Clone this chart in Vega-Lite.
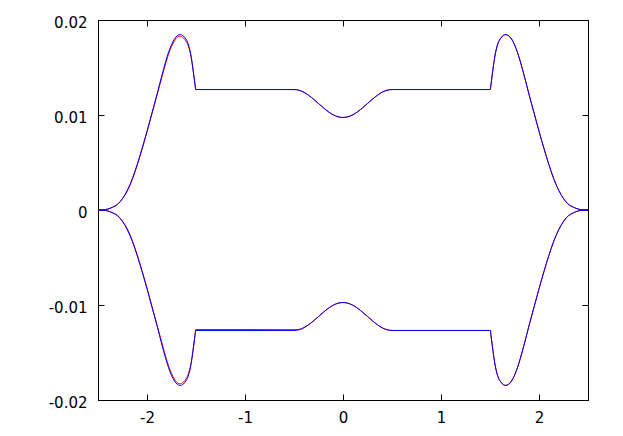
{
 "$schema": "https://vega.github.io/schema/vega-lite/v6.json",
 "width": 490,
 "height": 380,
 "autosize": {"type": "none"},
 "padding": {"left": 98, "top": 20, "right": 35, "bottom": 36},
 "background": "white",
 "config": {
  "view": {"stroke": "black", "strokeWidth": 1},
  "axis": {"domainColor": "black", "tickColor": "black", "grid": false, "labelFont": "DejaVu Sans", "labelFontSize": 15, "labelColor": "black", "tickSize": -6, "labelFlush": false, "labelOverlap": false}
 },
 "data": {"values": [
  {"b":"u","x":-2.5,"blue":0,"red":0},
  {"b":"u","x":-2.45,"blue":0.00002,"red":0.00002},
  {"b":"u","x":-2.4,"blue":0.0001,"red":0.0001},
  {"b":"u","x":-2.35,"blue":0.0003,"red":0.0003},
  {"b":"u","x":-2.3,"blue":0.0006,"red":0.0006},
  {"b":"u","x":-2.25,"blue":0.0012,"red":0.0012},
  {"b":"u","x":-2.2,"blue":0.0021,"red":0.0020},
  {"b":"u","x":-2.15,"blue":0.0033,"red":0.0032},
  {"b":"u","x":-2.1,"blue":0.0048,"red":0.0047},
  {"b":"u","x":-2.05,"blue":0.0065,"red":0.0064},
  {"b":"u","x":-2.0,"blue":0.0083,"red":0.0082},
  {"b":"u","x":-1.95,"blue":0.0102,"red":0.0101},
  {"b":"u","x":-1.9,"blue":0.0121,"red":0.0120},
  {"b":"u","x":-1.85,"blue":0.0141,"red":0.0139},
  {"b":"u","x":-1.81,"blue":0.0156,"red":0.0154},
  {"b":"u","x":-1.78,"blue":0.0166,"red":0.0164},
  {"b":"u","x":-1.75,"blue":0.0174,"red":0.0172},
  {"b":"u","x":-1.72,"blue":0.0180,"red":0.0178},
  {"b":"u","x":-1.69,"blue":0.01835,"red":0.0182},
  {"b":"u","x":-1.66,"blue":0.01847,"red":0.0183},
  {"b":"u","x":-1.64,"blue":0.0184,"red":0.0182},
  {"b":"u","x":-1.61,"blue":0.0181,"red":0.0179},
  {"b":"u","x":-1.58,"blue":0.0175,"red":0.0173},
  {"b":"u","x":-1.55,"blue":0.0162,"red":0.0161},
  {"b":"u","x":-1.53,"blue":0.0148,"red":0.0147},
  {"b":"u","x":-1.51,"blue":0.0132,"red":0.0132},
  {"b":"u","x":-1.503,"blue":0.01268,"red":0.01268},
  {"b":"u","x":-1.0,"blue":0.01268,"red":0.01268},
  {"b":"u","x":-0.5,"blue":0.01268,"red":0.01268},
  {"b":"u","x":-0.45,"blue":0.01261,"red":0.01261},
  {"b":"u","x":-0.4,"blue":0.01240,"red":0.01240},
  {"b":"u","x":-0.35,"blue":0.01207,"red":0.01207},
  {"b":"u","x":-0.3,"blue":0.01166,"red":0.01166},
  {"b":"u","x":-0.25,"blue":0.01121,"red":0.01121},
  {"b":"u","x":-0.2,"blue":0.01076,"red":0.01076},
  {"b":"u","x":-0.15,"blue":0.01035,"red":0.01035},
  {"b":"u","x":-0.1,"blue":0.01002,"red":0.01002},
  {"b":"u","x":-0.05,"blue":0.00981,"red":0.00981},
  {"b":"u","x":0,"blue":0.00974,"red":0.00974},
  {"b":"u","x":0.05,"blue":0.00981,"red":0.00981},
  {"b":"u","x":0.1,"blue":0.01002,"red":0.01002},
  {"b":"u","x":0.15,"blue":0.01035,"red":0.01035},
  {"b":"u","x":0.2,"blue":0.01076,"red":0.01076},
  {"b":"u","x":0.25,"blue":0.01121,"red":0.01121},
  {"b":"u","x":0.3,"blue":0.01166,"red":0.01166},
  {"b":"u","x":0.35,"blue":0.01207,"red":0.01207},
  {"b":"u","x":0.4,"blue":0.01240,"red":0.01240},
  {"b":"u","x":0.45,"blue":0.01261,"red":0.01261},
  {"b":"u","x":0.5,"blue":0.01268,"red":0.01268},
  {"b":"u","x":1.0,"blue":0.01268,"red":0.01268},
  {"b":"u","x":1.503,"blue":0.01268,"red":0.01268},
  {"b":"u","x":1.51,"blue":0.0132,"red":0.0132},
  {"b":"u","x":1.53,"blue":0.0148,"red":0.0148},
  {"b":"u","x":1.55,"blue":0.0162,"red":0.0162},
  {"b":"u","x":1.58,"blue":0.0175,"red":0.0175},
  {"b":"u","x":1.61,"blue":0.0181,"red":0.0181},
  {"b":"u","x":1.64,"blue":0.0184,"red":0.0184},
  {"b":"u","x":1.66,"blue":0.01847,"red":0.01845},
  {"b":"u","x":1.69,"blue":0.01835,"red":0.01833},
  {"b":"u","x":1.72,"blue":0.0180,"red":0.0180},
  {"b":"u","x":1.75,"blue":0.0174,"red":0.0174},
  {"b":"u","x":1.78,"blue":0.0166,"red":0.0166},
  {"b":"u","x":1.81,"blue":0.0156,"red":0.0156},
  {"b":"u","x":1.85,"blue":0.0141,"red":0.0141},
  {"b":"u","x":1.9,"blue":0.0121,"red":0.0121},
  {"b":"u","x":1.95,"blue":0.0102,"red":0.0102},
  {"b":"u","x":2.0,"blue":0.0083,"red":0.0083},
  {"b":"u","x":2.05,"blue":0.0065,"red":0.0065},
  {"b":"u","x":2.1,"blue":0.0048,"red":0.0048},
  {"b":"u","x":2.15,"blue":0.0033,"red":0.0033},
  {"b":"u","x":2.2,"blue":0.0021,"red":0.0021},
  {"b":"u","x":2.25,"blue":0.0012,"red":0.0012},
  {"b":"u","x":2.3,"blue":0.0006,"red":0.0006},
  {"b":"u","x":2.35,"blue":0.0003,"red":0.0003},
  {"b":"u","x":2.4,"blue":0.0001,"red":0.0001},
  {"b":"u","x":2.45,"blue":0.00002,"red":0.00002},
  {"b":"u","x":2.5,"blue":0,"red":0},
  {"b":"l","x":-2.5,"blue":0,"red":0},
  {"b":"l","x":-2.45,"blue":-0.00002,"red":-0.00002},
  {"b":"l","x":-2.4,"blue":-0.0001,"red":-0.0001},
  {"b":"l","x":-2.35,"blue":-0.0003,"red":-0.0003},
  {"b":"l","x":-2.3,"blue":-0.0006,"red":-0.0006},
  {"b":"l","x":-2.25,"blue":-0.0012,"red":-0.0012},
  {"b":"l","x":-2.2,"blue":-0.0021,"red":-0.0020},
  {"b":"l","x":-2.15,"blue":-0.0033,"red":-0.0032},
  {"b":"l","x":-2.1,"blue":-0.0048,"red":-0.0047},
  {"b":"l","x":-2.05,"blue":-0.0065,"red":-0.0064},
  {"b":"l","x":-2.0,"blue":-0.0083,"red":-0.0082},
  {"b":"l","x":-1.95,"blue":-0.0102,"red":-0.0101},
  {"b":"l","x":-1.9,"blue":-0.0121,"red":-0.0120},
  {"b":"l","x":-1.85,"blue":-0.0141,"red":-0.0139},
  {"b":"l","x":-1.81,"blue":-0.0156,"red":-0.0154},
  {"b":"l","x":-1.78,"blue":-0.0166,"red":-0.0164},
  {"b":"l","x":-1.75,"blue":-0.0174,"red":-0.0172},
  {"b":"l","x":-1.72,"blue":-0.0180,"red":-0.0178},
  {"b":"l","x":-1.69,"blue":-0.01835,"red":-0.0182},
  {"b":"l","x":-1.66,"blue":-0.01847,"red":-0.0183},
  {"b":"l","x":-1.64,"blue":-0.0184,"red":-0.0182},
  {"b":"l","x":-1.61,"blue":-0.0181,"red":-0.0179},
  {"b":"l","x":-1.58,"blue":-0.0175,"red":-0.0173},
  {"b":"l","x":-1.55,"blue":-0.0162,"red":-0.0161},
  {"b":"l","x":-1.53,"blue":-0.0148,"red":-0.0147},
  {"b":"l","x":-1.51,"blue":-0.0132,"red":-0.0131},
  {"b":"l","x":-1.503,"blue":-0.01268,"red":-0.01258},
  {"b":"l","x":-1.0,"blue":-0.01268,"red":-0.01258},
  {"b":"l","x":-0.5,"blue":-0.01268,"red":-0.01260},
  {"b":"l","x":-0.45,"blue":-0.01261,"red":-0.01257},
  {"b":"l","x":-0.4,"blue":-0.01240,"red":-0.01238},
  {"b":"l","x":-0.35,"blue":-0.01207,"red":-0.01207},
  {"b":"l","x":-0.3,"blue":-0.01166,"red":-0.01166},
  {"b":"l","x":-0.25,"blue":-0.01121,"red":-0.01121},
  {"b":"l","x":-0.2,"blue":-0.01076,"red":-0.01076},
  {"b":"l","x":-0.15,"blue":-0.01035,"red":-0.01035},
  {"b":"l","x":-0.1,"blue":-0.01002,"red":-0.01002},
  {"b":"l","x":-0.05,"blue":-0.00981,"red":-0.00981},
  {"b":"l","x":0,"blue":-0.00974,"red":-0.00974},
  {"b":"l","x":0.05,"blue":-0.00981,"red":-0.00981},
  {"b":"l","x":0.1,"blue":-0.01002,"red":-0.01002},
  {"b":"l","x":0.15,"blue":-0.01035,"red":-0.01035},
  {"b":"l","x":0.2,"blue":-0.01076,"red":-0.01076},
  {"b":"l","x":0.25,"blue":-0.01121,"red":-0.01121},
  {"b":"l","x":0.3,"blue":-0.01166,"red":-0.01166},
  {"b":"l","x":0.35,"blue":-0.01207,"red":-0.01207},
  {"b":"l","x":0.4,"blue":-0.01240,"red":-0.01240},
  {"b":"l","x":0.45,"blue":-0.01261,"red":-0.01261},
  {"b":"l","x":0.5,"blue":-0.01268,"red":-0.01268},
  {"b":"l","x":1.0,"blue":-0.01268,"red":-0.01268},
  {"b":"l","x":1.503,"blue":-0.01268,"red":-0.01268},
  {"b":"l","x":1.51,"blue":-0.0132,"red":-0.0132},
  {"b":"l","x":1.53,"blue":-0.0148,"red":-0.0148},
  {"b":"l","x":1.55,"blue":-0.0162,"red":-0.0162},
  {"b":"l","x":1.58,"blue":-0.0175,"red":-0.0175},
  {"b":"l","x":1.61,"blue":-0.0181,"red":-0.0181},
  {"b":"l","x":1.64,"blue":-0.0184,"red":-0.0184},
  {"b":"l","x":1.66,"blue":-0.01847,"red":-0.01845},
  {"b":"l","x":1.69,"blue":-0.01835,"red":-0.01833},
  {"b":"l","x":1.72,"blue":-0.0180,"red":-0.0180},
  {"b":"l","x":1.75,"blue":-0.0174,"red":-0.0174},
  {"b":"l","x":1.78,"blue":-0.0166,"red":-0.0166},
  {"b":"l","x":1.81,"blue":-0.0156,"red":-0.0156},
  {"b":"l","x":1.85,"blue":-0.0141,"red":-0.0141},
  {"b":"l","x":1.9,"blue":-0.0121,"red":-0.0121},
  {"b":"l","x":1.95,"blue":-0.0102,"red":-0.0102},
  {"b":"l","x":2.0,"blue":-0.0083,"red":-0.0083},
  {"b":"l","x":2.05,"blue":-0.0065,"red":-0.0065},
  {"b":"l","x":2.1,"blue":-0.0048,"red":-0.0048},
  {"b":"l","x":2.15,"blue":-0.0033,"red":-0.0033},
  {"b":"l","x":2.2,"blue":-0.0021,"red":-0.0021},
  {"b":"l","x":2.25,"blue":-0.0012,"red":-0.0012},
  {"b":"l","x":2.3,"blue":-0.0006,"red":-0.0006},
  {"b":"l","x":2.35,"blue":-0.0003,"red":-0.0003},
  {"b":"l","x":2.4,"blue":-0.0001,"red":-0.0001},
  {"b":"l","x":2.45,"blue":-0.00002,"red":-0.00002},
  {"b":"l","x":2.5,"blue":0,"red":0}
 ]},
 "layer": [
  {
   "mark": {"type": "line", "color": "#ff0000", "strokeWidth": 1, "interpolate": "monotone"},
   "encoding": {
    "x": {"field": "x", "type": "quantitative", "scale": {"domain": [-2.5, 2.5], "nice": false, "zero": false},
          "axis": {"orient": "bottom", "title": null, "values": [-2, -1, 0, 1, 2], "labelPadding": 16,
                   "labelExpr": "(datum.value < 0 ? '-' : '') + format(abs(datum.value), 'd')"}},
    "y": {"field": "red", "type": "quantitative", "scale": {"domain": [-0.02, 0.02], "nice": false, "zero": false},
          "axis": {"orient": "left", "title": null, "values": [-0.02, -0.01, 0, 0.01, 0.02], "labelPadding": 17, "labelOffset": 2,
                   "labelExpr": "datum.value == 0 ? '0' : (datum.value < 0 ? '-' : '') + format(abs(datum.value), '.2f')"}},
    "detail": {"field": "b"}
   }
  },
  {
   "mark": {"type": "line", "color": "#0000ff", "strokeWidth": 1, "interpolate": "monotone"},
   "encoding": {
    "x": {"field": "x", "type": "quantitative",
          "axis": {"orient": "top", "title": null, "values": [-2, -1, 0, 1, 2], "labels": false}},
    "y": {"field": "blue", "type": "quantitative",
          "axis": {"orient": "right", "title": null, "values": [-0.02, -0.01, 0, 0.01, 0.02], "labels": false}},
    "detail": {"field": "b"}
   }
  }
 ],
 "resolve": {"axis": {"x": "independent", "y": "independent"}}
}
